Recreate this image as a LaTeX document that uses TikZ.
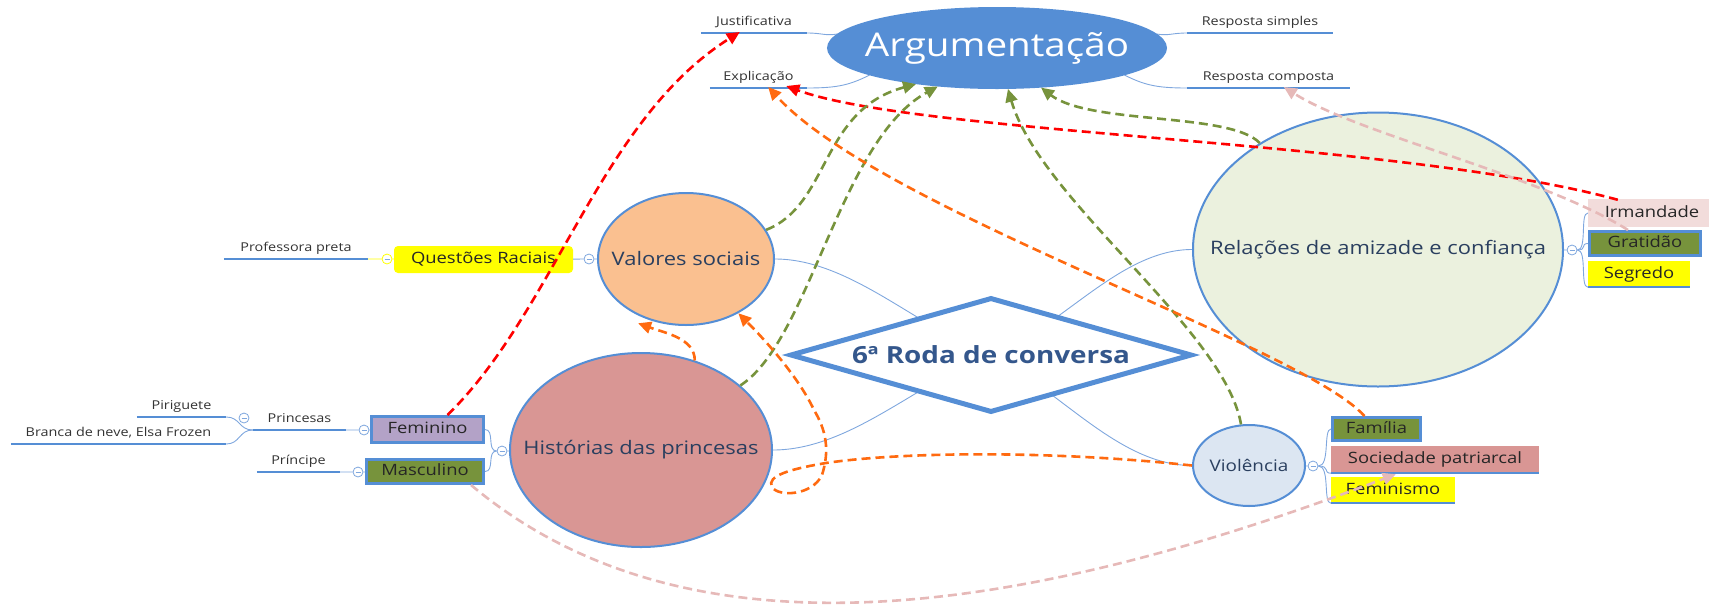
\documentclass[tikz,border=0pt]{standalone}
\usepackage{fontspec}
\setmainfont{Open Sans}[FakeStretch=1.18]
\usepackage{tikz}
\usetikzlibrary{shapes,arrows.meta}
\usetikzlibrary{positioning}
\usetikzlibrary{calc,backgrounds}
\definecolor{MM_blau_1}{HTML}{558ED5}
\definecolor{MM_blau_2}{HTML}{7FA7DE}
\definecolor{MM_blau_5}{HTML}{DCE6F2}
\definecolor{MM_text}{HTML}{2A3F5F}
\definecolor{MM_titel}{HTML}{34578C}
\definecolor{MM_orange_1}{HTML}{FF6A10}
\definecolor{MM_orange_5}{HTML}{FAC090}
\definecolor{MM_rot_1}{HTML}{FF0000}
\definecolor{MM_rot_5}{HTML}{D99694}
\definecolor{MM_gruen_1}{HTML}{77933C}
\definecolor{MM_gruen_5}{HTML}{EBF1DE}
\definecolor{MM_lila}{HTML}{B3A2C7}
\definecolor{MM_rosa_1}{HTML}{E6B9B8}
\definecolor{MM_rosa_5}{HTML}{F2DCDB}
\definecolor{MM_gelb}{HTML}{FFFF00}
\newcommand{\mitte}[1]{\makebox[0pt]{#1}}

\begin{document}
\begin{tikzpicture}[x=1pt, y=-1pt,
  topicnode/.style={ellipse, draw=MM_blau_1, line width=2pt, inner sep=0pt, text=MM_text, font=\fontsize{18.6}{22}\selectfont},
  boxnode/.style={rectangle, inner sep=0pt, text height=11pt, text depth=3pt, text=black!85, font=\fontsize{15.6}{18}\selectfont},
  boxframe/.style={boxnode, draw=MM_blau_1, line width=3pt},
  boxline/.style={boxnode, append after command={(\tikzlastnode.south west) edge[draw=MM_blau_1, line width=2.5pt] (\tikzlastnode.south east)}},
  leafnode/.style={anchor=south, inner xsep=0pt, inner ysep=4pt, text height=9pt, text depth=3pt, text=black!80, font=\fontsize{12.2}{14}\selectfont, append after command={(\tikzlastnode.south west) edge[draw=MM_blau_1, line width=2.5pt] (\tikzlastnode.south east)}},
  foldmark/.style={circle, draw=MM_blau_2, fill=white, line width=0.8pt, minimum size=10pt, inner sep=0pt, path picture={\draw[MM_blau_2, line width=0.8pt] ([xshift=2.5pt]path picture bounding box.west) -- ([xshift=-2.5pt]path picture bounding box.east);}},
  thinlink/.style={draw=MM_blau_2, line width=0.9pt},
  dashlink/.style={line width=2.6pt, dash pattern=on 9pt off 5pt, -{Triangle[length=13pt,width=12pt]}}]
\useasboundingbox (0,0) rectangle (1709,614);

% main topics
\node[topicnode, fill=MM_blau_1, text=white, minimum width=338pt, minimum height=80pt, font=\fontsize{32.7}{36}\selectfont] (argumentacao) at (997,48) {\mitte{Argumentação}};
\node[topicnode, fill=MM_orange_5, minimum width=176pt, minimum height=132pt] (valoressociais) at (686,259) {\mitte{Valores sociais}};
\node[topicnode, fill=MM_rot_5, minimum width=262pt, minimum height=194pt] (historias) at (641,450) {\mitte{Histórias das princesas}};
\node[topicnode, fill=MM_gruen_5, minimum width=370pt, minimum height=274pt] (relacoes) at (1378,249.5) {\mitte{Relações de amizade e confiança}};
\node[topicnode, fill=MM_blau_5, minimum width=112pt, minimum height=81pt, font=\fontsize{16}{19}\selectfont] (violencia) at (1249,465.5) {\mitte{Violência}};
\node[diamond, draw=MM_blau_1, line width=5pt, fill=white, inner sep=0pt, minimum width=402pt, minimum height=115pt, text=MM_titel, font=\fontsize{23.6}{27}\selectfont\bfseries] (roda) at (991,355) {\mitte{6ª Roda de conversa}};

% leaves
\node[leafnode, minimum width=106pt] (justificativa) at (754,33) {Justificativa};
\node[leafnode, minimum width=97pt] (explicacao) at (758.5,88) {Explicação};
\node[leafnode, minimum width=146pt] (respostasimples) at (1260,33) {Resposta simples};
\node[leafnode, minimum width=163pt] (respostacomposta) at (1268.5,88) {Resposta composta};
\node[leafnode, minimum width=144pt] (professorapreta) at (296,259) {Professora preta};
\node[leafnode, minimum width=93pt] (princesas) at (299.5,430) {Princesas};
\node[leafnode, minimum width=89pt] (piriguete) at (181.5,417) {Piriguete};
\node[leafnode, minimum width=215pt] (brancadeneve) at (118.5,444) {Branca de neve, Elsa Frozen};
\node[leafnode, minimum width=83pt] (principe) at (298.5,472) {Príncipe};

% boxes
\node[boxnode, fill=MM_gelb, rounded corners=4pt, minimum width=179pt, minimum height=27pt] (questoesraciais) at (483.5,259.5) {Questões Raciais};
\node[boxframe, fill=MM_lila, minimum width=112pt, minimum height=26pt] (feminino) at (427.5,429.5) {Feminino};
\node[boxframe, fill=MM_gruen_1, minimum width=117pt, minimum height=24pt] (masculino) at (425,471.5) {Masculino};
\node[boxnode, fill=MM_rosa_5, minimum width=128pt, minimum height=28pt] (irmandade) at (1652,213) {Irmandade};
\node[boxframe, fill=MM_gruen_1, minimum width=111pt, minimum height=24pt] (gratidao) at (1645,243.5) {Gratidão};
\node[boxline, fill=MM_gelb, minimum width=102pt, minimum height=26pt] (segredo) at (1639,274) {Segredo};
\node[boxframe, fill=MM_gruen_1, minimum width=88pt, minimum height=23pt] (familia) at (1376.5,429) {Família};
\node[boxline, fill=MM_rot_5, minimum width=208pt, minimum height=27pt] (sociedade) at (1435,459.5) {Sociedade patriarcal};
\node[boxline, fill=MM_gelb, minimum width=124pt, minimum height=26pt] (feminismo) at (1393,490) {Feminismo};

% collapse buttons
\node[foldmark, draw=MM_gelb] (fold1) at (387,259) {};
\node[foldmark] (fold2) at (589,259) {};
\node[foldmark] (fold3) at (244,418) {};
\node[foldmark] (fold4) at (364,430) {};
\node[foldmark] (fold5) at (358,472) {};
\node[foldmark] (fold6) at (502,451) {};
\node[foldmark] (fold7) at (1313,466) {};
\node[foldmark] (fold8) at (1572,250) {};

% map lines
\begin{scope}[on background layer]
\draw[thinlink] (valoressociais.east) .. controls +(76,0) and +(-71,-25) .. (roda.center);
\draw[thinlink] (historias.east) .. controls +(78,0) and +(-71,25) .. (roda.center);
\draw[thinlink] (relacoes.west) .. controls +(-73,0) and +(69,-25) .. (roda.center);
\draw[thinlink] (violencia.west) .. controls +(-73,0) and +(69,35) .. (roda.center);
\draw[thinlink] (justificativa.south east) .. controls +(15,0) and +(-12,2) .. (argumentacao.175);
\draw[thinlink] (explicacao.south east) .. controls +(30,0) and +(-20,10) .. (argumentacao.192);
\draw[thinlink] (respostasimples.south west) .. controls +(-15,0) and +(12,2) .. (argumentacao.5);
\draw[thinlink] (respostacomposta.south west) .. controls +(-30,0) and +(20,10) .. (argumentacao.-12);
\end{scope}

\draw[MM_gelb, line width=0.9pt] (professorapreta.south east) -- (fold1) -- (questoesraciais);
\draw[thinlink] (questoesraciais) -- (fold2) -- (valoressociais);
\draw[thinlink] (princesas.south east) -- (fold4) -- (feminino);
\draw[thinlink] (principe.south east) -- (fold5) -- (masculino);
\draw[thinlink] (piriguete.south east) .. controls +(14,0) and +(-14,0) .. (princesas.south west);
\draw[thinlink] (brancadeneve.south east) .. controls +(14,0) and +(-14,0) .. (princesas.south west);
\draw[thinlink] (historias) -- (fold6);
\draw[thinlink] (fold6.west) .. controls +(-10,0) and +(10,0) .. (feminino.east);
\draw[thinlink] (fold6.west) .. controls +(-10,0) and +(10,0) .. (masculino.east);
\draw[thinlink] (violencia) -- (fold7);
\draw[thinlink] (fold7.east) .. controls +(12,0) and +(-8,0) .. (familia.west);
\draw[thinlink] (fold7.east) .. controls +(12,0) and +(-8,0) .. (sociedade.south west);
\draw[thinlink] (fold7.east) .. controls +(12,0) and +(-8,0) .. (feminismo.south west);
\draw[thinlink] (relacoes) -- (fold8);
\draw[thinlink] (fold8.east) .. controls +(10,0) and +(-8,0) .. (irmandade.west);
\draw[thinlink] (fold8.east) .. controls +(10,0) and +(-8,0) .. (gratidao.west);
\draw[thinlink] (fold8.east) .. controls +(10,0) and +(-8,0) .. (segredo.south west);

% dashed relations
\draw[dashlink, MM_rot_1] ($ (feminino.north) + (20,0) $) .. controls (555,310) and (600,120) .. ($ (justificativa.south west) + (39,-1) $);
\draw[dashlink, MM_rot_1] ($ (irmandade.north west) + (30,1) $) .. controls (1400,140) and (920,135) .. ($ (explicacao.south east) + (-21,-2) $);
\draw[dashlink, MM_gruen_1] (valoressociais.20) .. controls (830,205) and (820,110) .. (argumentacao.-156);
\draw[dashlink, MM_gruen_1] (historias.33) .. controls (810,340) and (840,140) .. (argumentacao.-147);
\draw[dashlink, MM_gruen_1] (violencia.101) .. controls (1225,330) and (1040,200) .. (argumentacao.-75);
\draw[dashlink, MM_gruen_1] (relacoes.138) .. controls (1230,112) and (1090,125) .. (argumentacao.-42);
\draw[dashlink, MM_orange_1] ($ (familia.north) + (-12,0) $) .. controls (1300,345) and (880,210) .. ($ (explicacao.south east) + (-39,-1) $);
\draw[dashlink, MM_orange_1] (violencia.west) .. controls (1050,450) and (900,452) .. (826,463) .. controls (790,469) and (766,476) .. (772,487) .. controls (778,497) and (812,496) .. (822,475) .. controls (830,450) and (826,430) .. (814,410) .. controls (800,380) and (770,345) .. (valoressociais.-46);
\draw[dashlink, MM_orange_1] (historias.59) .. controls +(0,-22) and +(28,10) .. ($ (valoressociais.-127) + (-4,6) $);
\draw[dashlink, MM_rosa_1] ($ (gratidao.north west) + (40,0) $) .. controls (1540,175) and (1360,135) .. ($ (respostacomposta.south west) + (97,-1) $);
\draw[dashlink, MM_rosa_1] ($ (masculino.south east) + (-14,0) $) .. controls (680,660) and (1000,625) .. ($ (sociedade.south west) + (65,1) $);
\end{tikzpicture}
\end{document}
